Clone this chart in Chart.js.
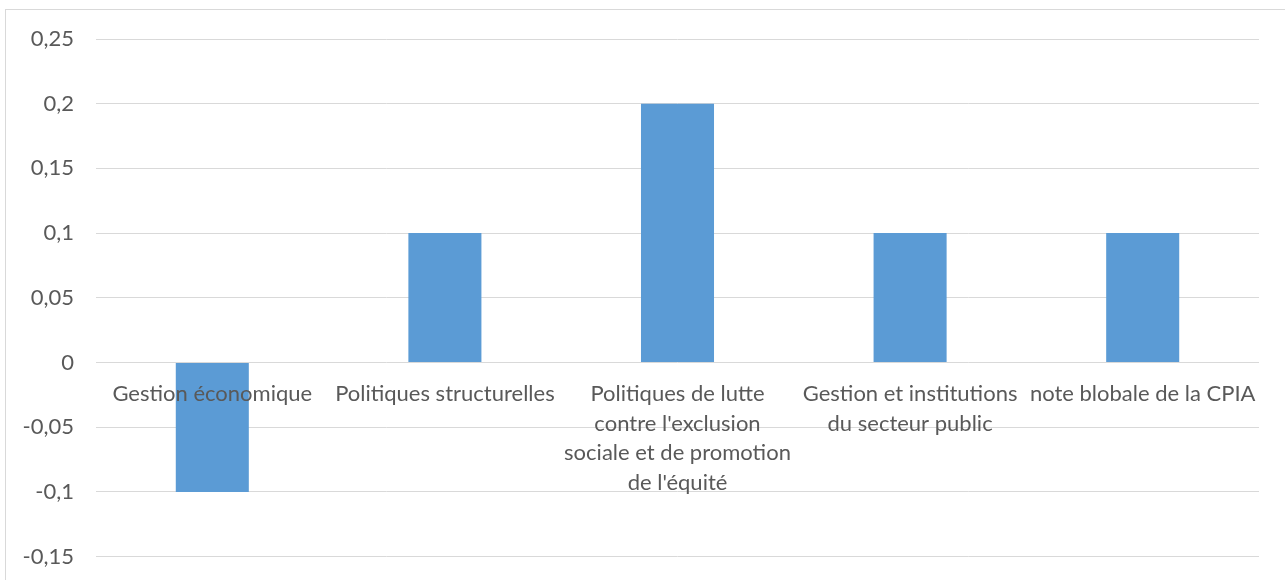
<!DOCTYPE html>
<html>
<head>
<meta charset="utf-8">
<script src="https://cdn.jsdelivr.net/npm/chart.js@4.4.1/dist/chart.umd.min.js"></script>
<style>
  html, body { margin: 0; padding: 0; background: #fff; overflow: hidden; }
  #frame {
    position: absolute; left: 5px; top: 9px;
    width: 1300px; height: 600px;
    border: 1px solid #d9d9d9;
  }
</style>
</head>
<body>
<div id="frame"><canvas id="cpiaChart" width="1300" height="600"></canvas></div>
<script>
  // ----- DATA -----
  const categories = [
    'Gestion économique',
    'Politiques structurelles',
    ['Politiques de lutte', "contre l'exclusion", 'sociale et de promotion', "de l'équité"],
    ['Gestion et institutions', 'du secteur public'],
    'note blobale de la CPIA'
  ];
  const values = [-0.1, 0.1, 0.2, 0.1, 0.1];
  const yTickLabels = ['-0,15', '-0,1', '-0,05', '0', '0,05', '0,1', '0,15', '0,2', '0,25'];

  const font = { family: 'Lato, "Open Sans", sans-serif', size: 22, lineHeight: 1.34 };

  const ctx = document.getElementById('cpiaChart').getContext('2d');
  new Chart(ctx, {
    type: 'bar',
    data: {
      labels: categories,
      datasets: [{
        data: values,
        backgroundColor: '#5b9bd5',
        barPercentage: 0.314,
        categoryPercentage: 1,
      }]
    },
    options: {
      responsive: false,
      animation: false,
      layout: { padding: { top: 29, right: 47, bottom: 53.4, left: 0 } },
      plugins: {
        legend: { display: false },
        tooltip: { enabled: false }
      },
      scales: {
        y: {
          min: -0.15,
          max: 0.25,
          afterFit: (scale) => {
            scale.width = 90;
            scale.paddingTop = 0;
            scale.paddingBottom = 0;
          },
          grid: { color: '#d9d9d9', lineWidth: 1, drawTicks: false },
          border: { display: false },
          ticks: {
            stepSize: 0.05,
            padding: 22,
            color: '#595959',
            font: font,
            callback: (v, i) => yTickLabels[i]
          }
        },
        x: {
          position: { y: 0 },
          grid: { display: false },
          border: { display: false },
          ticks: {
            z: 1,
            color: '#595959',
            font: font,
            padding: 9,
            maxRotation: 0,
            autoSkip: false
          }
        }
      }
    }
  });
</script>
</body>
</html>
